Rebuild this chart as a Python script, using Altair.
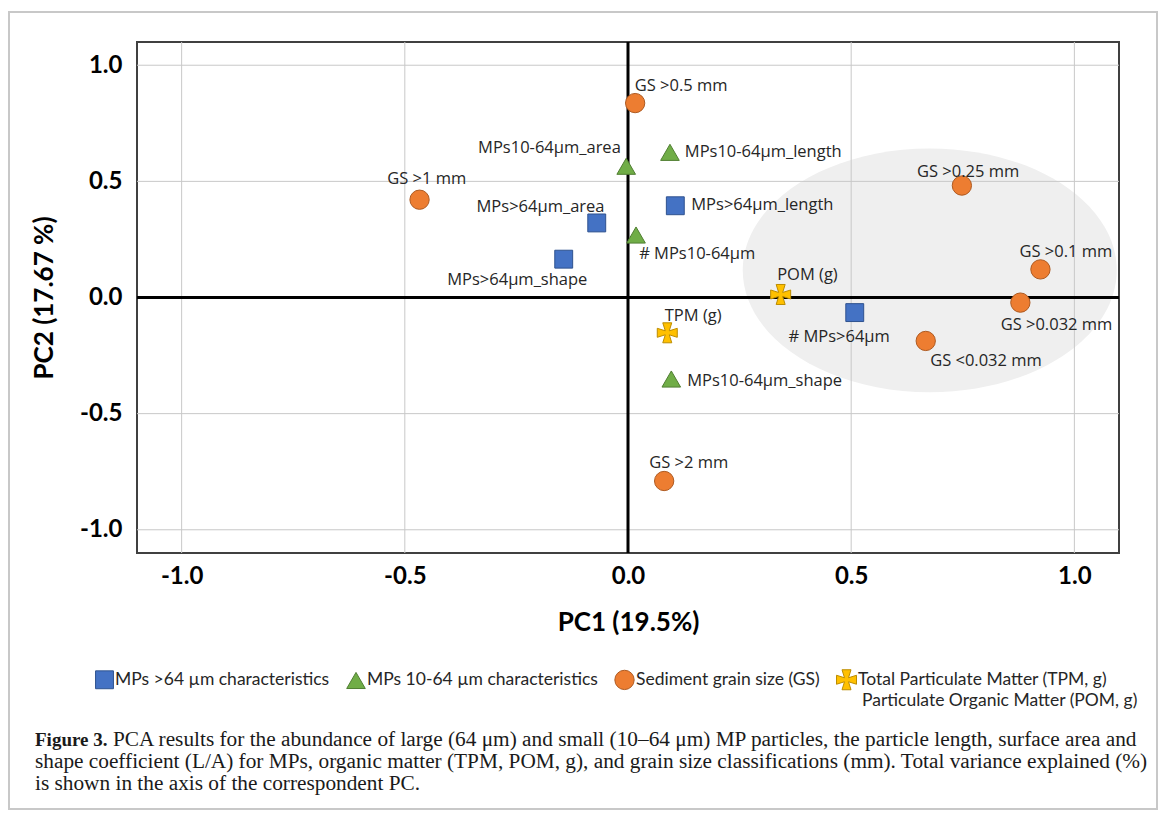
import altair as alt
import pandas as pd

# ---------------- data ----------------
GS = "Sediment grain size (GS)"
MP64 = "MPs >64 µm characteristics"
MP10 = "MPs 10-64 µm characteristics"
OM = "Total Particulate Matter (TPM, g)"
GROUP_ORDER = [MP64, MP10, GS, OM]

NAMES = ["GS >0.5 mm", "GS >1 mm", "GS >2 mm", "GS >0.25 mm", "GS >0.1 mm",
         "GS >0.032 mm", "GS <0.032 mm",
         "MPs>64µm_area", "MPs>64µm_length", "MPs>64µm_shape", "# MPs>64µm",
         "MPs10-64µm_area", "MPs10-64µm_length", "# MPs10-64µm", "MPs10-64µm_shape",
         "TPM (g)", "POM (g)"]
GROUPS = [GS] * 7 + [MP64] * 4 + [MP10] * 4 + [OM] * 2
PC1 = [0.016, -0.467, 0.081, 0.748, 0.924, 0.879, 0.667,
       -0.070, 0.106, -0.144, 0.508,
       -0.004, 0.094, 0.018, 0.097,
       0.088, 0.342]
PC2 = [0.837, 0.421, -0.790, 0.482, 0.121, -0.022, -0.187,
       0.321, 0.395, 0.165, -0.065,
       0.565, 0.625, 0.269, -0.351,
       -0.152, 0.013]
# label anchor (text centre) in PC units
LABEL_PC1 = [0.119, -0.451, 0.136, 0.762, 0.981, 0.960, 0.802,
             -0.196, 0.301, -0.248, 0.473,
             -0.176, 0.303, 0.155, 0.306,
             0.146, 0.402]
LABEL_PC2 = [0.911, 0.512, -0.711, 0.542, 0.195, -0.117, -0.273,
             0.390, 0.399, 0.074, -0.169,
             0.642, 0.625, 0.187, -0.360,
             -0.078, 0.095]

TICKS = [-1.0, -0.5, 0.0, 0.5, 1.0]
ZERO = [0.0]
ELLIPSE_PC1 = [0.676]
ELLIPSE_PC2 = [0.117]

LEGEND_LINE2 = "Particulate Organic Matter (POM, g)"
CAPTION_BOLD = "Figure 3."
CAPTION_LINE1 = ("PCA results for the abundance of large (64 μm) and small (10–64 μm) MP particles, "
                 "the particle length, surface area and")
CAPTION_LINE2 = ("shape coefficient (L/A) for MPs, organic matter (TPM, POM, g), and grain size "
                 "classifications (mm). Total variance explained (%)")
CAPTION_LINE3 = "is shown in the axis of the correspondent PC."

# ---------------- styles ----------------
FILLS = ["#4472C4", "#70AD47", "#ED7D31", "#FFC000"]
STROKES = ["#2F528F", "#507E32", "#AE5A21", "#BC8C00"]
CROSS = ("M-0.2,-0.2L-0.45,-1L0.45,-1L0.2,-0.2L1,-0.45L1,0.45L0.2,0.2L0.45,1"
         "L-0.45,1L-0.2,0.2L-1,0.45L-1,-0.45Z")
SHAPES = ["square", "triangle-up", "circle", CROSS]
SIZES = [320, 400, 360, 330]
ELLIPSE_PATH = "M-1,0A1,0.652,0,1,1,1,0A1,0.652,0,1,1,-1,0Z"

W, H = 982, 511
DOM = [-1.1, 1.1]
xs = alt.Scale(domain=DOM, nice=False, zero=False)
ys = alt.Scale(domain=DOM, nice=False, zero=False)

pts = pd.DataFrame({"name": NAMES, "group": GROUPS, "pc1": PC1, "pc2": PC2,
                    "lx": LABEL_PC1, "ly": LABEL_PC2})
ticks_df = pd.DataFrame({"v": TICKS})
zero_df = pd.DataFrame({"v": ZERO})
ell_df = pd.DataFrame({"x": ELLIPSE_PC1, "y": ELLIPSE_PC2})
one = pd.DataFrame({"a": [0]})

label_expr = "datum.value < 0 ? '-' + format(-datum.value, '.1f') : format(datum.value, '.1f')"

x_axis = alt.Axis(values=TICKS, labelExpr=label_expr, labelFont="Lato", labelFontWeight="bold",
                  labelFontSize=24, labelColor="#000", ticks=False, domain=False, grid=False,
                  labelPadding=11, title="PC1 (19.5%)", titleFont="Lato", titleFontSize=26,
                  titleFontWeight="bold", titleColor="#000", titlePadding=21)
y_axis = alt.Axis(values=TICKS, labelExpr=label_expr, labelFont="Lato", labelFontWeight="bold",
                  labelFontSize=24, labelColor="#000", ticks=False, domain=False, grid=False,
                  labelPadding=15, title="PC2 (17.67 %)", titleFont="Lato", titleFontSize=26,
                  titleFontWeight="bold", titleColor="#000", titlePadding=22)

ellipse = alt.Chart(ell_df).mark_point(shape=ELLIPSE_PATH, filled=True, fill="#EFEFEF",
                                       opacity=1, strokeWidth=0, size=374 * 374).encode(
    x=alt.X("x:Q", scale=xs, axis=x_axis), y=alt.Y("y:Q", scale=ys, axis=y_axis))

vgrid = alt.Chart(ticks_df).mark_rule(color="#C8C8C8", strokeWidth=1).encode(
    x=alt.X("v:Q", scale=xs, axis=x_axis))
hgrid = alt.Chart(ticks_df).mark_rule(color="#C8C8C8", strokeWidth=1).encode(
    y=alt.Y("v:Q", scale=ys, axis=y_axis))
vzero = alt.Chart(zero_df).mark_rule(color="#000", strokeWidth=3).encode(
    x=alt.X("v:Q", scale=xs, axis=x_axis))
hzero = alt.Chart(zero_df).mark_rule(color="#000", strokeWidth=3).encode(
    y=alt.Y("v:Q", scale=ys, axis=y_axis))

leg = alt.Legend(title=None, orient="none", legendX=-42, legendY=627, direction="horizontal",
                 symbolSize=280, labelFont="Lato", labelFontSize=17.5, labelColor="#262626",
                 labelLimit=600, columnPadding=14, labelOffset=1, padding=0, symbolStrokeWidth=1)

points = alt.Chart(pts).mark_point(filled=True, opacity=1, strokeWidth=1).encode(
    x=alt.X("pc1:Q", scale=xs, axis=x_axis),
    y=alt.Y("pc2:Q", scale=ys, axis=y_axis),
    color=alt.Color("group:N", scale=alt.Scale(domain=GROUP_ORDER, range=FILLS), legend=leg),
    shape=alt.Shape("group:N", scale=alt.Scale(domain=GROUP_ORDER, range=SHAPES), legend=leg),
    stroke=alt.Stroke("group:N", scale=alt.Scale(domain=GROUP_ORDER, range=STROKES), legend=leg),
    size=alt.Size("group:N", scale=alt.Scale(domain=GROUP_ORDER, range=SIZES), legend=None),
)

labels = alt.Chart(pts).mark_text(font="Open Sans", fontSize=16.5, color="#262626",
                                  align="center", baseline="middle").encode(
    x=alt.X("lx:Q", scale=xs, axis=x_axis), y=alt.Y("ly:Q", scale=ys, axis=y_axis),
    text="name:N")

leg2 = alt.Chart(one).mark_text(text=LEGEND_LINE2, font="Lato", fontSize=17.5, color="#262626",
                                align="left", baseline="middle").encode(
    x=alt.value(725), y=alt.value(659))

CAP_FONT = "Liberation Serif"
CAP_SIZE = 21.3
cap_bold = alt.Chart(one).mark_text(text=CAPTION_BOLD, font=CAP_FONT, fontWeight="bold",
                                    fontSize=19, color="#1a1a1a", align="left",
                                    baseline="middle").encode(x=alt.value(-102), y=alt.value(698))
cap1 = alt.Chart(one).mark_text(text=CAPTION_LINE1, font=CAP_FONT, fontSize=CAP_SIZE,
                                color="#1a1a1a", align="left", baseline="middle").encode(
    x=alt.value(-24), y=alt.value(698))
cap2 = alt.Chart(one).mark_text(text=CAPTION_LINE2, font=CAP_FONT, fontSize=CAP_SIZE,
                                color="#1a1a1a", align="left", baseline="middle").encode(
    x=alt.value(-102), y=alt.value(720))
cap3 = alt.Chart(one).mark_text(text=CAPTION_LINE3, font=CAP_FONT, fontSize=CAP_SIZE,
                                color="#1a1a1a", align="left", baseline="middle").encode(
    x=alt.value(-102), y=alt.value(742))

frame = alt.Chart(one).mark_rect(fillOpacity=0, stroke="#C8C8C8", strokeWidth=2).encode(
    x=alt.value(-128), x2=alt.value(1020), y=alt.value(-30), y2=alt.value(767))

chart = alt.layer(ellipse, vgrid, hgrid, vzero, hzero, points, labels, leg2,
                  cap_bold, cap1, cap2, cap3, frame).properties(
    width=W, height=H,
    autosize=alt.AutoSizeParams(type="none"),
    padding={"left": 129, "top": 34, "right": 40, "bottom": 258},
    background="white",
).configure_view(stroke="#404040", strokeWidth=2)

chart.save("out.html", embed_options={"renderer": "svg", "actions": False})
